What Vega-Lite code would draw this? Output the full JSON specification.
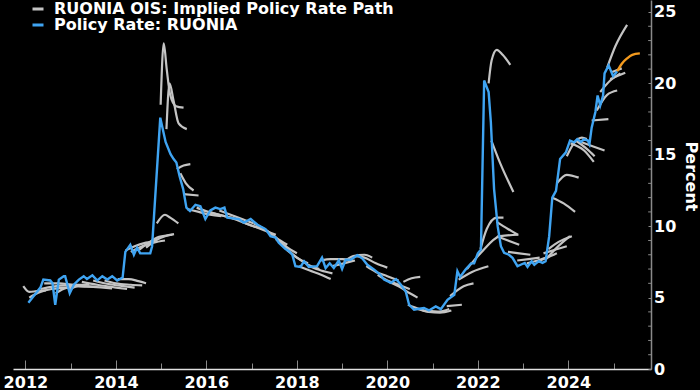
{
 "$schema": "https://vega.github.io/schema/vega-lite/v6.json",
 "width": 638, "height": 369,
 "autosize": {"type": "none"},
 "padding": {"left": 13, "top": 0, "right": 49, "bottom": 21},
 "background": "#000000",
 "config": {"view": {"stroke": null}, "font": "DejaVu Sans"},
 "datasets": {
  "ruonia": [
   {"d":"2012-01-25","v":4.64},{"d":"2012-05-01","v":5.7},{"d":"2012-05-25","v":6.26},{"d":"2012-07-20","v":6.2},{"d":"2012-08-07","v":6.0},{"d":"2012-08-29","v":4.5},{"d":"2012-09-27","v":6.26},{"d":"2012-11-06","v":6.5},{"d":"2012-11-17","v":6.5},{"d":"2012-12-24","v":5.3},
   {"d":"2013-01-26","v":5.9},{"d":"2013-03-08","v":6.26},{"d":"2013-04-16","v":6.5},{"d":"2013-05-12","v":6.3},{"d":"2013-06-25","v":6.56},{"d":"2013-08-04","v":6.2},{"d":"2013-09-13","v":6.5},{"d":"2013-10-23","v":6.26},{"d":"2013-12-02","v":6.5},
   {"d":"2014-01-11","v":6.2},{"d":"2014-02-24","v":6.4},{"d":"2014-03-18","v":8.2},{"d":"2014-04-27","v":8.7},{"d":"2014-05-26","v":8.0},{"d":"2014-06-21","v":8.5},{"d":"2014-07-16","v":8.1},{"d":"2014-10-05","v":8.1},{"d":"2014-10-20","v":8.6},{"d":"2014-12-25","v":17.6},
   {"d":"2015-02-06","v":15.9},{"d":"2015-03-18","v":15.05},{"d":"2015-04-12","v":14.7},{"d":"2015-05-04","v":14.46},{"d":"2015-05-30","v":13.5},{"d":"2015-06-28","v":12.6},{"d":"2015-07-24","v":11.3},{"d":"2015-08-22","v":11.06},{"d":"2015-10-05","v":11.5},{"d":"2015-11-14","v":11.4},{"d":"2015-12-24","v":10.5},
   {"d":"2016-02-02","v":11.1},{"d":"2016-03-14","v":11.3},{"d":"2016-04-22","v":11.2},{"d":"2016-05-26","v":11.3},{"d":"2016-06-18","v":10.6},{"d":"2016-09-20","v":10.5},{"d":"2016-10-30","v":10.25},{"d":"2016-12-24","v":10.5},
   {"d":"2017-02-17","v":10.1},{"d":"2017-04-23","v":9.8},{"d":"2017-06-02","v":9.3},{"d":"2017-07-13","v":9.2},{"d":"2017-08-08","v":8.84},{"d":"2017-10-01","v":8.4},{"d":"2017-10-30","v":8.25},{"d":"2017-11-25","v":8.0},{"d":"2017-12-20","v":7.2},
   {"d":"2018-01-30","v":7.15},{"d":"2018-02-28","v":7.55},{"d":"2018-04-08","v":7.15},{"d":"2018-06-13","v":7.2},{"d":"2018-07-23","v":7.8},{"d":"2018-08-21","v":7.07},{"d":"2018-09-23","v":7.4},{"d":"2018-10-26","v":7.07},{"d":"2018-12-05","v":7.6},
   {"d":"2019-01-01","v":7.0},{"d":"2019-01-30","v":7.65},{"d":"2019-03-11","v":7.65},{"d":"2019-05-05","v":7.97},{"d":"2019-06-14","v":7.73},{"d":"2019-07-24","v":7.3},{"d":"2019-09-17","v":6.96},{"d":"2019-11-07","v":6.6},{"d":"2019-12-06","v":6.26},
   {"d":"2020-01-30","v":6.03},{"d":"2020-03-11","v":6.3},{"d":"2020-04-20","v":5.9},{"d":"2020-05-30","v":5.4},{"d":"2020-06-25","v":4.5},{"d":"2020-08-04","v":4.15},{"d":"2020-09-02","v":4.2},{"d":"2020-10-23","v":4.27},{"d":"2020-12-02","v":4.1},
   {"d":"2021-01-26","v":4.38},{"d":"2021-03-08","v":4.19},{"d":"2021-05-01","v":4.85},{"d":"2021-06-25","v":5.2},{"d":"2021-07-20","v":6.85},{"d":"2021-08-11","v":6.45},{"d":"2021-09-24","v":6.96},{"d":"2021-11-07","v":7.4},{"d":"2021-12-02","v":7.4},
   {"d":"2022-01-01","v":8.1},{"d":"2022-01-26","v":8.37},{"d":"2022-02-21","v":20.2},{"d":"2022-03-29","v":19.4},{"d":"2022-04-16","v":17.3},{"d":"2022-05-12","v":12.6},{"d":"2022-06-10","v":10.0},{"d":"2022-07-06","v":8.6},{"d":"2022-08-01","v":8.14},{"d":"2022-09-09","v":8.0},{"d":"2022-10-08","v":7.78},{"d":"2022-11-17","v":7.2},{"d":"2022-12-13","v":7.3},
   {"d":"2023-01-15","v":7.43},{"d":"2023-02-06","v":7.15},{"d":"2023-03-11","v":7.55},{"d":"2023-04-02","v":7.3},{"d":"2023-05-08","v":7.55},{"d":"2023-06-07","v":7.43},{"d":"2023-07-02","v":7.55},{"d":"2023-07-31","v":9.3},{"d":"2023-08-25","v":12.0},{"d":"2023-09-24","v":12.47},{"d":"2023-10-27","v":14.7},{"d":"2023-12-13","v":15.17},
   {"d":"2024-01-15","v":16.0},{"d":"2024-02-17","v":15.87},{"d":"2024-03-14","v":16.1},{"d":"2024-04-12","v":15.9},{"d":"2024-05-08","v":16.1},{"d":"2024-06-07","v":16.0},{"d":"2024-06-20","v":15.75},{"d":"2024-07-08","v":16.9},{"d":"2024-08-07","v":18.0},{"d":"2024-08-25","v":19.15},{"d":"2024-09-15","v":18.45},{"d":"2024-10-08","v":19.15},{"d":"2024-10-20","v":20.7},{"d":"2024-11-22","v":21.26},{"d":"2024-12-28","v":20.5},{"d":"2025-01-30","v":20.85}
  ],
  "latest": [
   {"d":"2025-01-30","v":20.85},{"d":"2025-03-10","v":21.4},{"d":"2025-04-20","v":21.75},{"d":"2025-06-01","v":22.0},{"d":"2025-08-01","v":22.1}
  ],
  "minorticks": [
   {"t":1},{"t":2},{"t":3},{"t":4},{"t":6},{"t":7},{"t":8},{"t":9},{"t":11},{"t":12},{"t":13},{"t":14},{"t":16},{"t":17},{"t":18},{"t":19},{"t":21},{"t":22},{"t":23},{"t":24}
  ],
  "ois": [
   {"p":1,"d":"2011-12-15","v":5.8},{"p":1,"d":"2012-02-01","v":5.4},{"p":1,"d":"2012-04-01","v":5.45},{"p":1,"d":"2012-06-15","v":5.5},
   {"p":2,"d":"2012-02-01","v":5.0},{"p":2,"d":"2012-05-01","v":5.4},{"p":2,"d":"2012-08-01","v":5.6},{"p":2,"d":"2013-01-01","v":5.7},
   {"p":3,"d":"2012-05-01","v":5.6},{"p":3,"d":"2012-08-01","v":5.75},{"p":3,"d":"2012-12-01","v":5.85},{"p":3,"d":"2013-05-01","v":5.8},
   {"p":4,"d":"2012-06-01","v":6.0},{"p":4,"d":"2012-10-01","v":6.0},{"p":4,"d":"2013-02-01","v":5.9},{"p":4,"d":"2013-06-01","v":5.9},
   {"p":5,"d":"2012-09-01","v":5.3},{"p":5,"d":"2012-12-01","v":5.7},{"p":5,"d":"2013-03-01","v":5.8},{"p":5,"d":"2013-08-01","v":5.75},
   {"p":6,"d":"2012-12-15","v":5.5},{"p":6,"d":"2013-03-01","v":5.8},{"p":6,"d":"2013-07-01","v":5.75},{"p":6,"d":"2013-12-01","v":5.65},
   {"p":7,"d":"2013-04-01","v":6.1},{"p":7,"d":"2013-08-01","v":5.9},{"p":7,"d":"2014-01-01","v":5.7},{"p":7,"d":"2014-04-01","v":5.6},
   {"p":8,"d":"2013-07-01","v":6.2},{"p":8,"d":"2013-11-01","v":5.95},{"p":8,"d":"2014-03-01","v":5.8},{"p":8,"d":"2014-06-01","v":5.7},
   {"p":9,"d":"2013-10-01","v":6.2},{"p":9,"d":"2014-01-01","v":6.0},{"p":9,"d":"2014-05-01","v":5.9},{"p":9,"d":"2014-08-01","v":5.85},
   {"p":10,"d":"2014-01-15","v":6.3},{"p":10,"d":"2014-04-15","v":6.3},{"p":10,"d":"2014-07-01","v":6.15},{"p":10,"d":"2014-09-01","v":6.0},
   {"p":11,"d":"2014-03-20","v":8.3},{"p":11,"d":"2014-06-01","v":8.6},{"p":11,"d":"2014-09-01","v":8.85},{"p":11,"d":"2014-12-01","v":9.0},
   {"p":12,"d":"2014-05-01","v":8.2},{"p":12,"d":"2014-08-01","v":8.6},{"p":12,"d":"2014-11-01","v":8.85},{"p":12,"d":"2015-02-01","v":9.0},
   {"p":13,"d":"2014-07-01","v":8.3},{"p":13,"d":"2014-09-15","v":8.8},{"p":13,"d":"2014-12-15","v":9.25},{"p":13,"d":"2015-04-01","v":9.4},
   {"p":14,"d":"2014-09-01","v":8.5},{"p":14,"d":"2014-11-15","v":9.0},{"p":14,"d":"2015-02-01","v":9.3},{"p":14,"d":"2015-04-15","v":9.45},
   {"p":15,"d":"2014-11-27","v":10.2},{"p":15,"d":"2015-02-01","v":10.8},{"p":15,"d":"2015-03-15","v":10.6},{"p":15,"d":"2015-05-20","v":10.2},
   {"p":16,"d":"2014-12-28","v":18.5},{"p":16,"d":"2015-01-22","v":22.8},{"p":16,"d":"2015-02-15","v":21.0},{"p":16,"d":"2015-03-15","v":19.2},{"p":16,"d":"2015-05-01","v":18.4},{"p":16,"d":"2015-07-01","v":18.3},
   {"p":17,"d":"2015-02-13","v":16.8},{"p":17,"d":"2015-03-10","v":20.0},{"p":17,"d":"2015-04-11","v":18.8},{"p":17,"d":"2015-05-22","v":17.2},{"p":17,"d":"2015-07-27","v":16.8},
   {"p":18,"d":"2015-05-08","v":14.0},{"p":18,"d":"2015-07-01","v":14.25},{"p":18,"d":"2015-08-25","v":14.35},
   {"p":19,"d":"2015-06-05","v":13.7},{"p":19,"d":"2015-07-20","v":13.0},{"p":19,"d":"2015-09-20","v":12.5},
   {"p":20,"d":"2015-07-01","v":12.25},{"p":20,"d":"2015-10-30","v":12.15},
   {"p":21,"d":"2015-08-01","v":11.2},{"p":21,"d":"2015-11-01","v":11.0},{"p":21,"d":"2016-02-01","v":10.8},{"p":21,"d":"2016-05-01","v":10.7},
   {"p":22,"d":"2015-10-15","v":11.3},{"p":22,"d":"2016-01-15","v":11.0},{"p":22,"d":"2016-04-15","v":10.8},{"p":22,"d":"2016-07-15","v":10.6},
   {"p":23,"d":"2016-01-15","v":11.0},{"p":23,"d":"2016-04-15","v":10.8},{"p":23,"d":"2016-07-15","v":10.6},{"p":23,"d":"2016-10-15","v":10.4},
   {"p":24,"d":"2016-04-15","v":11.1},{"p":24,"d":"2016-07-15","v":10.8},{"p":24,"d":"2016-10-15","v":10.5},{"p":24,"d":"2017-01-15","v":10.2},
   {"p":25,"d":"2016-07-15","v":10.6},{"p":25,"d":"2016-10-15","v":10.3},{"p":25,"d":"2017-01-15","v":10.0},{"p":25,"d":"2017-04-15","v":9.8},
   {"p":26,"d":"2016-10-15","v":10.3},{"p":26,"d":"2017-01-15","v":10.0},{"p":26,"d":"2017-04-15","v":9.7},{"p":26,"d":"2017-07-15","v":9.4},
   {"p":27,"d":"2017-01-15","v":10.2},{"p":27,"d":"2017-04-15","v":9.8},{"p":27,"d":"2017-07-15","v":9.2},{"p":27,"d":"2017-10-15","v":8.7},
   {"p":28,"d":"2017-04-15","v":9.8},{"p":28,"d":"2017-07-01","v":9.3},{"p":28,"d":"2017-10-01","v":8.6},{"p":28,"d":"2018-01-01","v":8.1},
   {"p":29,"d":"2017-07-15","v":9.1},{"p":29,"d":"2017-10-01","v":8.5},{"p":29,"d":"2018-01-01","v":7.8},{"p":29,"d":"2018-04-01","v":7.4},
   {"p":30,"d":"2017-10-15","v":8.3},{"p":30,"d":"2018-01-01","v":7.8},{"p":30,"d":"2018-04-01","v":7.3},{"p":30,"d":"2018-07-01","v":7.0},
   {"p":31,"d":"2018-01-15","v":7.2},{"p":31,"d":"2018-04-15","v":6.9},{"p":31,"d":"2018-07-15","v":6.6},{"p":31,"d":"2018-10-01","v":6.3},
   {"p":32,"d":"2018-04-15","v":7.2},{"p":32,"d":"2018-07-15","v":6.9},{"p":32,"d":"2018-10-15","v":6.7},
   {"p":33,"d":"2018-07-15","v":7.6},{"p":33,"d":"2018-10-01","v":7.7},{"p":33,"d":"2019-01-01","v":7.7},{"p":33,"d":"2019-04-01","v":7.6},
   {"p":34,"d":"2018-10-15","v":7.2},{"p":34,"d":"2019-01-15","v":7.4},{"p":34,"d":"2019-04-15","v":7.6},
   {"p":35,"d":"2019-01-15","v":7.5},{"p":35,"d":"2019-04-01","v":7.9},{"p":35,"d":"2019-07-01","v":8.0},{"p":35,"d":"2019-09-01","v":7.8},
   {"p":36,"d":"2019-04-15","v":7.9},{"p":36,"d":"2019-07-01","v":7.8},{"p":36,"d":"2019-10-01","v":7.4},{"p":36,"d":"2020-01-01","v":7.1},
   {"p":37,"d":"2019-07-15","v":7.2},{"p":37,"d":"2019-10-01","v":6.8},{"p":37,"d":"2020-01-01","v":6.5},{"p":37,"d":"2020-04-01","v":6.2},
   {"p":38,"d":"2019-10-15","v":6.6},{"p":38,"d":"2020-01-01","v":6.2},{"p":38,"d":"2020-04-01","v":5.9},{"p":38,"d":"2020-07-01","v":5.6},
   {"p":39,"d":"2020-01-15","v":6.1},{"p":39,"d":"2020-04-01","v":5.8},{"p":39,"d":"2020-07-01","v":5.3},{"p":39,"d":"2020-09-01","v":5.0},
   {"p":40,"d":"2020-05-10","v":6.1},{"p":40,"d":"2020-07-15","v":6.35},{"p":40,"d":"2020-09-23","v":6.45},
   {"p":41,"d":"2020-06-15","v":4.5},{"p":41,"d":"2020-09-15","v":4.2},{"p":41,"d":"2020-12-15","v":4.0},{"p":41,"d":"2021-03-15","v":4.0},
   {"p":42,"d":"2020-09-01","v":4.2},{"p":42,"d":"2020-12-01","v":4.0},{"p":42,"d":"2021-03-01","v":3.95},{"p":42,"d":"2021-06-01","v":4.1},
   {"p":43,"d":"2020-11-15","v":4.1},{"p":43,"d":"2021-02-15","v":4.0},{"p":43,"d":"2021-05-15","v":4.2},
   {"p":44,"d":"2021-04-25","v":4.4},{"p":44,"d":"2021-08-25","v":4.5},
   {"p":45,"d":"2021-05-22","v":5.1},{"p":45,"d":"2021-09-08","v":5.8},{"p":45,"d":"2021-11-27","v":6.0},
   {"p":46,"d":"2021-07-30","v":6.26},{"p":46,"d":"2021-11-15","v":6.8},{"p":46,"d":"2022-03-27","v":7.2},
   {"p":47,"d":"2021-10-05","v":7.0},{"p":47,"d":"2022-01-22","v":8.1},{"p":47,"d":"2022-07-01","v":9.3},{"p":47,"d":"2022-11-25","v":9.4},
   {"p":48,"d":"2022-01-22","v":8.4},{"p":48,"d":"2022-03-14","v":9.8},{"p":48,"d":"2022-06-03","v":10.6},{"p":48,"d":"2022-07-27","v":10.6},
   {"p":49,"d":"2022-06-01","v":10.3},{"p":49,"d":"2022-09-01","v":9.8},{"p":49,"d":"2022-11-20","v":9.4},
   {"p":50,"d":"2022-06-03","v":9.3},{"p":50,"d":"2022-09-01","v":9.0},{"p":50,"d":"2022-12-01","v":8.7},
   {"p":51,"d":"2022-03-29","v":20.0},{"p":51,"d":"2022-04-22","v":21.6},{"p":51,"d":"2022-06-03","v":22.35},{"p":51,"d":"2022-07-20","v":22.0},{"p":51,"d":"2022-09-20","v":21.3},
   {"p":52,"d":"2022-04-20","v":16.0},{"p":52,"d":"2022-07-01","v":14.4},{"p":52,"d":"2022-10-15","v":12.4},
   {"p":53,"d":"2022-09-01","v":8.2},{"p":53,"d":"2022-12-01","v":8.1},{"p":53,"d":"2023-03-01","v":8.0},
   {"p":54,"d":"2022-11-15","v":7.6},{"p":54,"d":"2023-02-15","v":7.7},{"p":54,"d":"2023-05-15","v":7.8},
   {"p":55,"d":"2023-02-01","v":7.4},{"p":55,"d":"2023-05-01","v":7.6},{"p":55,"d":"2023-08-01","v":7.9},
   {"p":56,"d":"2023-04-15","v":7.5},{"p":56,"d":"2023-07-15","v":7.8},{"p":56,"d":"2023-10-01","v":8.1},
   {"p":57,"d":"2023-06-15","v":8.1},{"p":57,"d":"2023-09-15","v":8.35},{"p":57,"d":"2023-12-20","v":8.6},
   {"p":58,"d":"2023-07-01","v":7.65},{"p":58,"d":"2023-10-01","v":8.5},{"p":58,"d":"2024-01-15","v":9.3},
   {"p":59,"d":"2023-07-25","v":8.4},{"p":59,"d":"2023-10-15","v":8.9},{"p":59,"d":"2024-01-30","v":9.3},
   {"p":60,"d":"2023-08-25","v":12.0},{"p":60,"d":"2023-11-25","v":11.6},{"p":60,"d":"2024-02-25","v":11.0},
   {"p":61,"d":"2023-10-01","v":13.0},{"p":61,"d":"2023-12-20","v":13.6},{"p":61,"d":"2024-03-25","v":13.4},
   {"p":62,"d":"2023-12-20","v":14.9},{"p":62,"d":"2024-02-15","v":15.8},{"p":62,"d":"2024-04-20","v":16.2},{"p":62,"d":"2024-05-30","v":16.1},
   {"p":63,"d":"2024-01-20","v":15.8},{"p":63,"d":"2024-05-08","v":15.3},{"p":63,"d":"2024-07-25","v":14.5},
   {"p":64,"d":"2024-03-01","v":16.0},{"p":64,"d":"2024-06-01","v":15.4},{"p":64,"d":"2024-08-01","v":14.9},
   {"p":65,"d":"2024-04-12","v":15.9},{"p":65,"d":"2024-07-15","v":15.6},{"p":65,"d":"2024-10-20","v":15.3},
   {"p":66,"d":"2024-07-08","v":17.4},{"p":66,"d":"2024-11-20","v":17.5},
   {"p":67,"d":"2024-08-18","v":18.1},{"p":67,"d":"2024-11-10","v":19.2},{"p":67,"d":"2025-01-30","v":19.5},
   {"p":68,"d":"2024-09-15","v":19.4},{"p":68,"d":"2024-12-05","v":20.2},{"p":68,"d":"2025-02-25","v":20.7},
   {"p":69,"d":"2024-11-10","v":21.1},{"p":69,"d":"2025-01-15","v":22.6},{"p":69,"d":"2025-04-20","v":24.1},
   {"p":70,"d":"2024-12-05","v":20.3},{"p":70,"d":"2025-02-25","v":20.6},{"p":70,"d":"2025-04-05","v":20.75},
   {"p":71,"d":"2024-12-20","v":20.8},{"p":71,"d":"2025-03-08","v":21.05}
  ]
 },
 "layer": [
  {
   "data": {"name": "ois"},
   "mark": {"type": "line", "strokeWidth": 2.2, "interpolate": "monotone"},
   "encoding": {
    "x": {"field": "d", "type": "temporal",
     "scale": {"type": "utc", "domain": [{"year": 2011, "month": 9, "date": 23, "utc": true}, {"year": 2025, "month": 10, "date": 30, "utc": true}]},
     "axis": {
      "title": null, "grid": false,
      "values": [{"year":2012,"utc":true},{"year":2013,"utc":true},{"year":2014,"utc":true},{"year":2015,"utc":true},{"year":2016,"utc":true},{"year":2017,"utc":true},{"year":2018,"utc":true},{"year":2019,"utc":true},{"year":2020,"utc":true},{"year":2021,"utc":true},{"year":2022,"utc":true},{"year":2023,"utc":true},{"year":2024,"utc":true},{"year":2025,"utc":true}],
      "labelExpr": "utcyear(datum.value) % 2 == 0 ? utcFormat(datum.value, '%Y') : ''",
      "tickSize": {"condition": {"test": "utcyear(datum.value) % 2 == 0", "value": -9}, "value": -6},
      "tickColor": "#8a8a8a", "tickWidth": 1,
      "domainColor": "#e0e0e0", "domainWidth": 1.5,
      "labelPadding": 14, "labelFontSize": 16, "labelFontWeight": "bold", "labelColor": "#ffffff",
      "labelFlush": false, "labelOverlap": false
     }
    },
    "y": {"field": "v", "type": "quantitative",
     "scale": {"domain": [0, 25.84], "nice": false, "zero": true},
     "axis": {
      "orient": "right", "grid": false,
      "values": [0, 5, 10, 15, 20, 25],
      "format": "d",
      "labelFontSize": 16,
      "tickSize": -3, "tickColor": "#8a8a8a", "domainColor": "#8a8a8a", "domainWidth": 1.5,
      "labelPadding": 5.5, "labelFontWeight": "bold", "labelColor": "#ffffff",
      "labelFlush": false, "labelOverlap": false, "labelBaseline": "middle",
      "title": "Percent", "titleFontSize": 16, "titleFontWeight": "bold", "titleColor": "#ffffff",
      "titleAngle": 90, "titleX": 34, "titleY": 176, "titleAlign": "center", "titleBaseline": "alphabetic"
     }
    },
    "detail": {"field": "p"},
    "color": {"datum": "RUONIA OIS: Implied Policy Rate Path",
     "scale": {"domain": ["RUONIA OIS: Implied Policy Rate Path", "Policy Rate: RUONIA"], "range": ["#c4c4c4", "#3fa4f2"]},
     "legend": {"orient": "none", "legendX": 17, "legendY": 1, "title": null, "padding": 0,
      "symbolType": "stroke", "symbolSize": 121, "symbolStrokeWidth": 3,
      "labelFontSize": 16, "labelFontWeight": "bold", "labelColor": "#ffffff", "labelLimit": 0,
      "rowPadding": -1, "labelOffset": 8}
    }
   }
  },
  {
   "data": {"name": "minorticks"},
   "mark": {"type": "rule", "color": "#8a8a8a", "strokeWidth": 1},
   "encoding": {
    "x": {"datum": {"year": 2025, "month": 10, "date": 7, "utc": true}, "type": "temporal"},
    "x2": {"datum": {"year": 2025, "month": 10, "date": 30, "utc": true}},
    "y": {"field": "t", "type": "quantitative"}
   }
  },
  {
   "data": {"name": "ruonia"},
   "mark": {"type": "line", "strokeWidth": 2.4},
   "encoding": {
    "x": {"field": "d", "type": "temporal"},
    "y": {"field": "v", "type": "quantitative"},
    "color": {"datum": "Policy Rate: RUONIA"}
   }
  },
  {
   "data": {"name": "latest"},
   "mark": {"type": "line", "strokeWidth": 2.4, "color": "#f39a1e", "interpolate": "monotone"},
   "encoding": {
    "x": {"field": "d", "type": "temporal"},
    "y": {"field": "v", "type": "quantitative"}
   }
  }
 ]
}
